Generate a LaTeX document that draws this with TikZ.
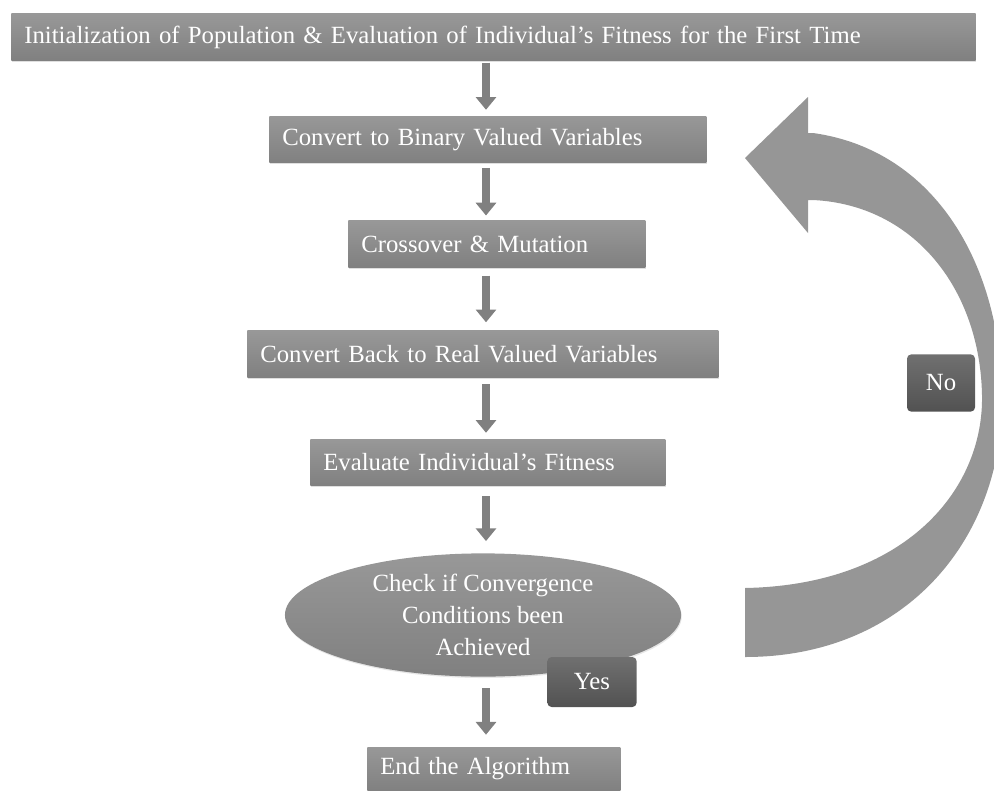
\documentclass[tikz,border=0pt]{standalone}
\usepackage{fontspec}
\setmainfont{Liberation Serif}
\usepackage{tikz}
\usetikzlibrary{arrows.meta}
\usetikzlibrary{shapes.geometric}
\usetikzlibrary{shadows}

\definecolor{boxtop}{RGB}{152,152,152}
\definecolor{boxbot}{RGB}{128,128,128}
\definecolor{flowgray}{RGB}{128,128,128}
\definecolor{loopgray}{RGB}{150,150,150}
\definecolor{tagtop}{RGB}{112,112,112}
\definecolor{tagbot}{RGB}{82,82,82}

\begin{document}
\begin{tikzpicture}[x=0.025cm, y=-0.025cm,
    step box/.style={rectangle, top color=boxtop, bottom color=boxbot, draw=none, text=white,
        font=\fontsize{17.6}{20}\selectfont, align=left, inner xsep=0.325cm, inner ysep=0pt,
        minimum height=1.17cm, anchor=west, drop shadow={opacity=0.25, shadow xshift=0.5pt, shadow yshift=-1pt}},
    check/.style={ellipse, top color=boxtop, bottom color=boxbot, text=white, inner sep=0pt,
        font=\fontsize{17.6}{22.8}\selectfont, align=center, minimum width=9.9cm, minimum height=3.08cm,
        drop shadow={opacity=0.2, shadow xshift=0.5pt, shadow yshift=-1pt}},
    tag/.style={rectangle, rounded corners=3pt, top color=tagtop, bottom color=tagbot, text=white,
        font=\fontsize{17.6}{20}\selectfont, inner sep=0pt},
    flow/.style={draw=flowgray, line width=0.22cm, -{Triangle[width=0.5cm, length=0.32cm]},
        shorten <=0.2cm, shorten >=0.2cm}]
    \useasboundingbox (0,0) rectangle (994,790);
    \coordinate (spine) at (486,0);

    % main chain of steps
    \node[step box, text width=23.45cm] (init) at (11,37) {Initialization of Population \& Evaluation of Individual's Fitness for the First Time};
    \node[step box, text width=10.275cm] (bin) at (269,139.5) {Convert to Binary Valued Variables};
    \node[step box, text width=6.775cm] (cross) at (348,244) {Crossover \& Mutation};
    \node[step box, text width=11.125cm] (back) at (247,354) {Convert Back to Real Valued Variables};
    \node[step box, text width=8.225cm] (eval) at (310,462.5) {Evaluate Individual's Fitness};
    \node[check] (conv) at (483,615) {Check if Convergence\\Conditions been\\Achieved};
    \node[step box, text width=5.675cm, minimum height=1.1cm] (end) at (367,769) {End the Algorithm};

    \node[tag, minimum width=2.23cm, minimum height=1.25cm] (yes) at (592,682) {Yes};
    \node[tag, minimum width=1.7cm, minimum height=1.43cm] (no) at (941,383) {No};

    \draw[flow, shorten <=0.05cm, shorten >=0.15cm] (init.south -| spine) -- (bin.north -| spine);
    \draw[flow, shorten <=0.12cm, shorten >=0.12cm] (bin.south -| spine) -- (cross.north -| spine);
    \draw[flow] (cross.south -| spine) -- (back.north -| spine);
    \draw[flow, shorten <=0.17cm, shorten >=0.15cm] (back.south -| spine) -- (eval.north -| spine);
    \draw[flow, shorten <=0.25cm, shorten >=0.3cm] (eval.south -| spine) -- (conv.north -| spine);
    \draw[flow, shorten <=0.28cm, shorten >=0.3cm] (conv.south -| spine) -- (end.north -| spine);

    % loop back arrow
    \fill[loopgray] (745,588) -- (745,657)
        .. controls (905,657) and (1002,540) .. (1002,400)
        .. controls (1002,265) and (935,150) .. (813,133)
        -- (808,133) -- (808,97) -- (745,158) -- (808,233) -- (808,200) -- (813,200)
        .. controls (915,205) and (980,290) .. (982,395)
        .. controls (984,490) and (905,585) .. (745,588) -- cycle;
\end{tikzpicture}
\end{document}
